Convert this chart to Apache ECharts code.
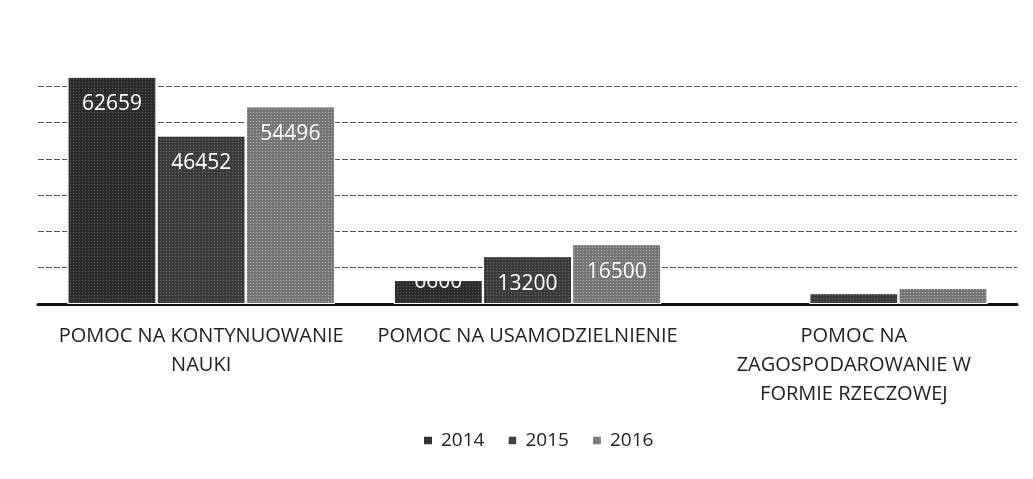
<!DOCTYPE html>
<html>
<head>
<meta charset="utf-8">
<script src="https://cdn.jsdelivr.net/npm/echarts@6/dist/echarts.min.js"></script>
<style>
  html, body { margin: 0; padding: 0; background: #fff; }
  #chart { width: 1033px; height: 479px; }
</style>
</head>
<body>
<div id="chart"></div>
<script>
// kategorie i wartości
const categories = [
  'POMOC NA KONTYNUOWANIE\nNAUKI',
  'POMOC NA USAMODZIELNIENIE',
  'POMOC NA\nZAGOSPODAROWANIE W\nFORMIE RZECZOWEJ'
];
const years = ['2014', '2015', '2016'];
const values2014 = [62659, 6600, null];
const values2015 = [46452, 13200, 3000];
const values2016 = [54496, 16500, 4500];
const showLabel2014 = [true, true, false];
const showLabel2015 = [true, true, false];
const showLabel2016 = [true, true, false];

const colors = ['#2a2a2a', '#383838', '#737373'];

const chart = echarts.init(document.getElementById('chart'));

function makeSeries(name, values, showLabels, color, decalColor) {
  return {
    name: name,
    type: 'bar',
    barGap: '0%',
    barCategoryGap: '18%',
    data: values.map((v, i) => {
      const item = { value: v, label: { show: showLabels[i] } };
      // etykieta 6600 wystaje ponad niski słupek i jest w połowie niewidoczna
      if (v !== null && v < 10000) item.label.offset = [0, -26];
      return item;
    }),
    itemStyle: {
      color: color,
      borderColor: '#fff',
      borderWidth: 1,
      decal: {
        symbol: 'circle',
        symbolSize: 0.5,
        dashArrayX: [3, 0],
        dashArrayY: [3, 0],
        color: decalColor
      }
    },
    label: {
      position: 'insideTop',
      distance: 17,
      color: '#fff',
      fontFamily: 'Open Sans',
      fontSize: 21
    }
  };
}

chart.setOption({
  backgroundColor: '#ffffff',
  animation: false,
  grid: {
    left: 38,
    right: 16,
    top: 50,
    bottom: 175
  },
  legend: {
    bottom: 24,
    left: 417,
    itemWidth: 10,
    itemHeight: 10,
    itemGap: 22,
    icon: 'rect',
    textStyle: {
      color: '#222',
      fontFamily: 'Open Sans',
      fontSize: 19,
      padding: [0, 0, 0, 3]
    },
    data: years
  },
  xAxis: {
    type: 'category',
    data: categories,
    axisLine: { lineStyle: { color: '#111', width: 3 } },
    axisTick: { show: false },
    axisLabel: {
      color: '#222',
      fontFamily: 'Open Sans',
      fontSize: 20,
      lineHeight: 29,
      margin: 18,
      interval: 0
    }
  },
  yAxis: {
    type: 'value',
    min: 0,
    max: 70000,
    interval: 10000,
    axisLine: { show: false },
    axisTick: { show: false },
    axisLabel: { show: false },
    splitLine: {
      showMaxLine: false,
      lineStyle: { color: '#555', width: 1, type: [6, 2] }
    }
  },
  series: [
    makeSeries(years[0], values2014, showLabel2014, colors[0], 'rgba(255,255,255,0.22)'),
    makeSeries(years[1], values2015, showLabel2015, colors[1], 'rgba(255,255,255,0.22)'),
    makeSeries(years[2], values2016, showLabel2016, colors[2], 'rgba(255,255,255,0.4)')
  ]
});
</script>
</body>
</html>
